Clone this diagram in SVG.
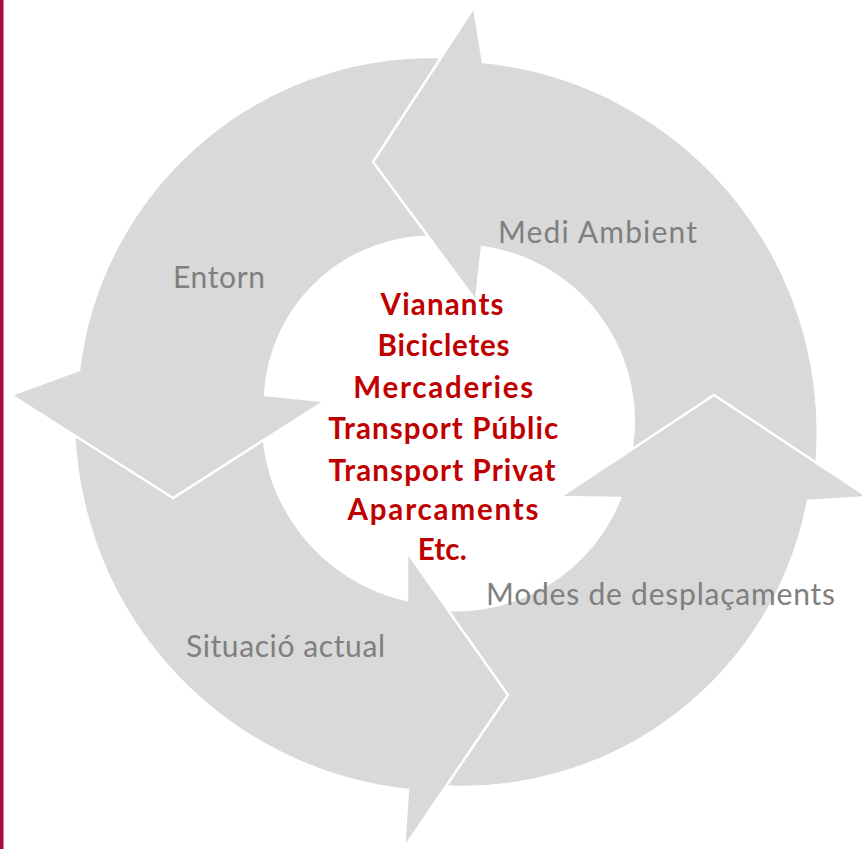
<svg xmlns="http://www.w3.org/2000/svg" xmlns:xlink="http://www.w3.org/1999/xlink" width="862" height="849" viewBox="0 0 862 849">
<style>
.arrow{fill:#d9d9d9;stroke:#ffffff;stroke-width:2.5;stroke-linejoin:miter;stroke-miterlimit:10}
.lbl{font-family:Lato,'Liberation Sans',sans-serif;font-size:30px;fill:#7f7f7f}
.ctr{font-family:Lato,'Liberation Sans',sans-serif;font-size:29.5px;font-weight:bold;fill:#c00000;text-anchor:middle}
</style>
<defs>
<path id="p-situacio" d="M407,552 L508,695 L404,848 L408,790 A374,374 0 0 1 74,412 L263,412 A184,184 0 0 0 407,600 Z"/>
<clipPath id="clip-sit-head"><rect x="430" y="560" width="140" height="289"/></clipPath>
</defs>
<rect id="side-bar" x="0" y="0" width="3.5" height="849" fill="#ab0a3f"/>
<g id="connectors"></g>
<g id="situacio-actual">
<use xlink:href="#p-situacio" href="#p-situacio" class="arrow"/>
</g>
<g id="entorn">
<path class="arrow" d="M11,395 L79,370 A355,355 0 0 1 458,58 L452,238 A167,167 0 0 0 265,395 L325,401 L173,498 Z"/>
</g>
<g id="medi-ambient">
<path class="arrow" d="M474,7 L483,62 A372,372 0 0 1 814,485 L628,466 A176,176 0 0 0 482,247 L476,301 L373,162 Z"/>
</g>
<g id="modes-desplacaments">
<path class="arrow" d="M714,395 L868,497 L808,501 A352,352 0 0 1 436,786 L436,609 A176,176 0 0 0 620,498 L560,497 Z"/>
</g>
<g id="situacio-actual-head">
<use xlink:href="#p-situacio" href="#p-situacio" class="arrow" clip-path="url(#clip-sit-head)"/>
</g>
<g id="labels">
<text class="lbl" x="498" y="243" textLength="199">Medi Ambient</text>
<text class="lbl" x="173" y="288" textLength="92">Entorn</text>
<text class="lbl" x="186" y="657" textLength="199">Situació actual</text>
<text class="lbl" x="486" y="605" textLength="349">Modes de desplaçaments</text>
</g>
<g id="centre">
<text class="ctr" x="442" y="315" textLength="123">Vianants</text>
<text class="ctr" x="443.5" y="356" textLength="132">Bicicletes</text>
<text class="ctr" x="443.3" y="398" textLength="180">Mercaderies</text>
<text class="ctr" x="443.3" y="438.5" textLength="230">Transport Públic</text>
<text class="ctr" x="442" y="481" textLength="227">Transport Privat</text>
<text class="ctr" x="443" y="520" textLength="191">Aparcaments</text>
<text class="ctr" x="442.2" y="560" textLength="49">Etc.</text>
</g>
</svg>
